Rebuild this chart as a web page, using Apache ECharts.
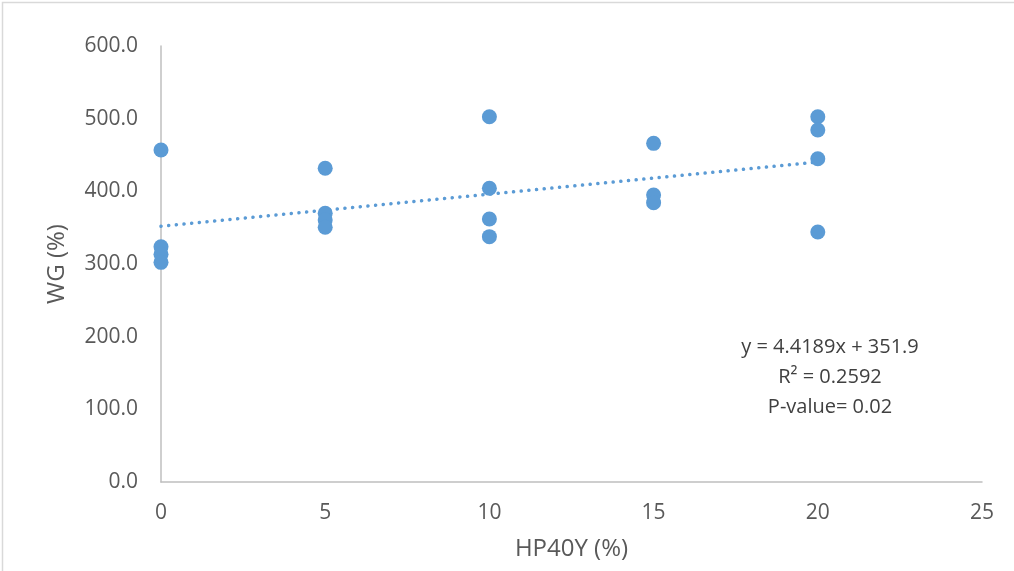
<!DOCTYPE html>
<html><head><meta charset="utf-8">
<script src="https://cdn.jsdelivr.net/npm/echarts@6/dist/echarts.min.js"></script>
<style>html,body{margin:0;padding:0;background:#fff}#c{width:1014px;height:571px}</style>
</head><body><div id="c"></div>
<script>
const xTreat = [0,0,0,0, 5,5,5,5, 10,10,10,10, 15,15,15, 20,20,20,20];
const wgValues = [456.9,323.8,313.3,302.3, 431.7,369.7,360.5,350.5, 502.7,404.2,361.9,337.6, 466.0,394.9,384.4, 502.7,484.4,444.9,344.0];
const trendX = [0, 20];
const trendY = [351.9, 440.3];
const annotation = ['y = 4.4189x + 351.9', 'R² = 0.2592', 'P-value= 0.02'];
const xTitle = 'HP40Y (%)';
const yTitle = 'WG (%)';

const pts = xTreat.map((x,i)=>[x, wgValues[i]]);
const trend = trendX.map((x,i)=>[x, trendY[i]]);
const FONT = 'Open Sans';
const chart = echarts.init(document.getElementById('c'), null, {renderer:'canvas'});
chart.setOption({
  animation:false,
  backgroundColor:'#fff',
  grid:{left:161, right:32, top:46, bottom:89, containLabel:false},
  xAxis:{type:'value', min:0, max:25, interval:5,
    name:xTitle, nameLocation:'middle', nameGap:55,
    nameTextStyle:{fontFamily:FONT, fontSize:24, color:'#595959'},
    axisLine:{show:true, lineStyle:{color:'#bfbfbf', width:1.5}},
    axisTick:{show:false}, splitLine:{show:false},
    axisLabel:{fontFamily:FONT, fontSize:21, color:'#595959', margin:21}},
  yAxis:{type:'value', min:0, max:600, interval:100,
    name:yTitle, nameLocation:'middle', nameGap:92, nameRotate:90,
    nameTextStyle:{fontFamily:FONT, fontSize:24, color:'#595959'},
    axisLine:{show:true, lineStyle:{color:'#bfbfbf', width:1.5}},
    axisTick:{show:false}, splitLine:{show:false},
    axisLabel:{fontFamily:FONT, fontSize:21, color:'#595959', margin:23,
      formatter:v=>v.toFixed(1)}},
  series:[
    {type:'line', data:trend, showSymbol:false, symbol:'none', z:1,
     lineStyle:{color:'#5b9bd5', width:3.5, type:[0.1,7.6], cap:'round'}},
    {type:'scatter', data:pts, symbol:'circle', symbolSize:15, z:2,
     itemStyle:{color:'#5b9bd5', opacity:1}}
  ],
  graphic:[
    {type:'rect', left:0, top:0, shape:{width:1013, height:570},
     style:{fill:'none', stroke:'#d9d9d9', lineWidth:1.5}, silent:true},
    {type:'text', x:830, y:347, style:{text:annotation[0], font:'20px "Open Sans"', fill:'#404040', textAlign:'center', textVerticalAlign:'middle'}},
    {type:'text', x:830, y:377, style:{text:annotation[1], font:'20px "Open Sans"', fill:'#404040', textAlign:'center', textVerticalAlign:'middle'}},
    {type:'text', x:830, y:407, style:{text:annotation[2], font:'20px "Open Sans"', fill:'#404040', textAlign:'center', textVerticalAlign:'middle'}}
  ]
});
</script></body></html>
